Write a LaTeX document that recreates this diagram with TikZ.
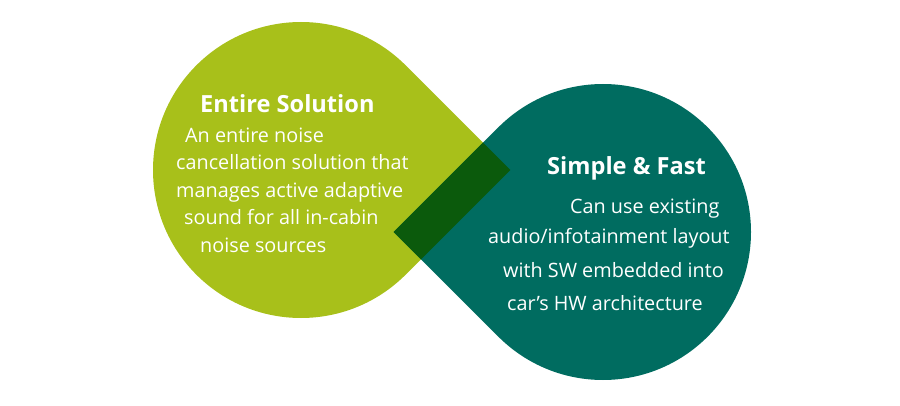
\documentclass[tikz,border=0pt]{standalone}
\usepackage{fontspec}
\usetikzlibrary{calc}
\setmainfont{Open Sans}
\definecolor{limeg}{HTML}{A8C01A}
\definecolor{tealg}{HTML}{006C60}
\definecolor{darkg}{HTML}{0B5A0C}
\begin{document}
\begin{tikzpicture}[x=1pt,y=1pt,
  body/.style={anchor=base west,inner sep=0pt,text=white,font=\fontsize{19.8}{22}\selectfont},
  head/.style={anchor=base west,inner sep=0pt,text=white,font=\fontsize{23.6}{26}\selectfont\bfseries}]
\useasboundingbox (0,0) rectangle (900,405);
\coordinate (c1) at (301,235);
\coordinate (k1) at (510.3,235);
\coordinate (c2) at (603,173);
\coordinate (k2) at (393.7,173);
\fill[limeg] (k1) -- ($(c1)+(45:148pt)$) arc[start angle=45,end angle=315,radius=148pt] -- cycle;
\fill[tealg] (k2) -- ($(c2)+(135:148pt)$) arc[start angle=135,end angle=-135,radius=148pt] -- cycle;
\begin{scope}
\clip (k1) -- ($(c1)+(45:148pt)$) arc[start angle=45,end angle=315,radius=148pt] -- cycle;
\fill[darkg] (k2) -- ($(c2)+(135:148pt)$) arc[start angle=135,end angle=-135,radius=148pt] -- cycle;
\end{scope}
\node[head] (t1) at (200,292) {Entire Solution};
\node[body] (a1) at (185,262) {An entire noise};
\node[body] (a2) at (176,235) {cancellation solution that};
\node[body] (a3) at (176,207.5) {manages active adaptive};
\node[body] (a4) at (184,180) {sound for all in-cabin};
\node[body] (a5) at (200,153) {noise sources};
\node[head] (t2) at (547,230) {Simple \& Fast};
\node[body] (b1) at (570,192) {Can use existing};
\node[body] (b2) at (488,161) {audio/infotainment layout};
\node[body] (b3) at (503,128) {with SW embedded into};
\node[body] (b4) at (507,95) {car’s HW architecture};
\end{tikzpicture}
\end{document}
